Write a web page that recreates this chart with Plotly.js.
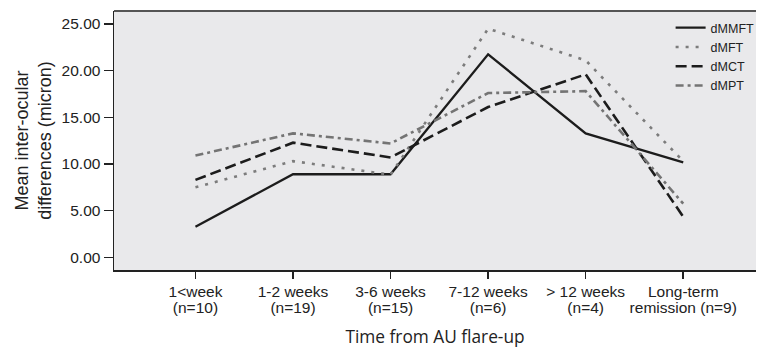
<!DOCTYPE html>
<html>
<head>
<meta charset="utf-8">
<script src="https://cdn.plot.ly/plotly-3.0.1.min.js"></script>
<style>
  html, body { margin: 0; padding: 0; background: #fff; }
  #chart { width: 760px; height: 348px; }
</style>
</head>
<body>
<div id="chart"></div>
<script>
// Categories (time from AU flare-up)
const categories = ['1<week (n=10)', '1-2 weeks (n=19)', '3-6 weeks (n=15)', '7-12 weeks (n=6)', '> 12 weeks (n=4)', 'Long-term remission (n=9)'];
const tickLine1 = ['1&lt;week', '1-2 weeks', '3-6 weeks', '7-12 weeks', '&gt; 12 weeks', 'Long-term'];
const tickLine2 = ['(n=10)', '(n=19)', '(n=15)', '(n=6)', '(n=4)', 'remission (n=9)'];

// Series values (mean inter-ocular differences, micron)
const dMMFT = [3.28, 8.90, 8.90, 21.75, 13.28, 10.18];
const dMFT  = [7.50, 10.30, 8.85, 24.50, 21.10, 10.30];
const dMCT  = [8.30, 12.28, 10.70, 16.10, 19.60, 4.35];
const dMPT  = [10.90, 13.28, 12.20, 17.60, 17.80, 5.75];

const yTickVals = [0, 5, 10, 15, 20, 25];
const yTickText = ['0.00', '5.00', '10.00', '15.00', '20.00', '25.00'];

const idx = categories.map((c, i) => i);

const traces = [
  { name: 'dMMFT', y: dMMFT, line: { color: '#1c1c1c', width: 2.3, dash: 'solid' } },
  { name: 'dMFT',  y: dMFT,  line: { color: '#7c7c7c', width: 2.6, dash: '3px,7px' } },
  { name: 'dMCT',  y: dMCT,  line: { color: '#1c1c1c', width: 2.6, dash: '11px,5px' } },
  { name: 'dMPT',  y: dMPT,  line: { color: '#747474', width: 2.6, dash: '8px,4px,3px,4px' } }
].map(t => Object.assign({ type: 'scatter', mode: 'lines', x: idx, hoverinfo: 'skip' }, t));

const tickFont = { family: 'Liberation Sans, Arial, sans-serif', size: 15.5, color: '#222' };
const xRange = [-0.835, 5.746];

const layout = {
  width: 760, height: 348,
  margin: { l: 114, r: 0, t: 11, b: 78 },
  paper_bgcolor: '#ffffff',
  plot_bgcolor: '#e9e9eb',
  showlegend: true,
  legend: {
    x: 0.867, y: 0.992, xanchor: 'left', yanchor: 'top',
    bgcolor: 'rgba(0,0,0,0)', borderwidth: 0,
    font: { family: 'Liberation Sans, Arial, sans-serif', size: 12.5, color: '#222' },
    tracegroupgap: 0, itemwidth: 30
  },
  xaxis: {
    type: 'linear', range: xRange,
    tickmode: 'array', tickvals: idx, ticktext: tickLine1,
    ticks: 'outside', ticklen: 7, tickwidth: 1.5, tickcolor: '#222',
    showline: true, linecolor: '#222', linewidth: 1.5, mirror: false,
    showgrid: false, zeroline: false,
    tickfont: tickFont,
    title: { text: 'Time from AU flare-up', font: { family: 'Open Sans, sans-serif', size: 17.3, color: '#222' }, standoff: 33 },
    automargin: false
  },
  xaxis2: {
    type: 'linear', range: xRange, overlaying: 'x', anchor: 'y', side: 'bottom',
    tickmode: 'array', tickvals: idx, ticktext: tickLine2,
    ticks: 'outside', ticklen: 23, tickcolor: 'rgba(0,0,0,0)',
    showline: false, showgrid: false, zeroline: false,
    tickfont: tickFont,
    automargin: false
  },
  yaxis: {
    range: [-1.36, 26.39],
    tickmode: 'array', tickvals: yTickVals, ticktext: yTickText,
    ticks: 'outside', ticklen: 9, tickwidth: 1.5, tickcolor: '#222',
    showline: true, linecolor: '#222', linewidth: 1.5,
    showgrid: false, zeroline: false,
    tickfont: tickFont,
    title: { text: 'Mean inter-ocular<br>differences (micron)', font: { family: 'Liberation Sans, Arial, sans-serif', size: 18, color: '#222' }, standoff: 5 },
    automargin: false
  },
  shapes: [
    { type: 'line', xref: 'paper', yref: 'paper', x0: 0, x1: 1, y0: 1, y1: 1, line: { color: '#555', width: 2 } }
  ]
};

// invisible trace to activate xaxis2 (second line of tick labels)
traces.push({ type: 'scatter', mode: 'lines', x: idx, y: dMMFT, xaxis: 'x2', yaxis: 'y', showlegend: false, hoverinfo: 'skip', line: { width: 0 }, opacity: 0 });

Plotly.newPlot('chart', traces, layout, { staticPlot: true, displayModeBar: false });
</script>
</body>
</html>
